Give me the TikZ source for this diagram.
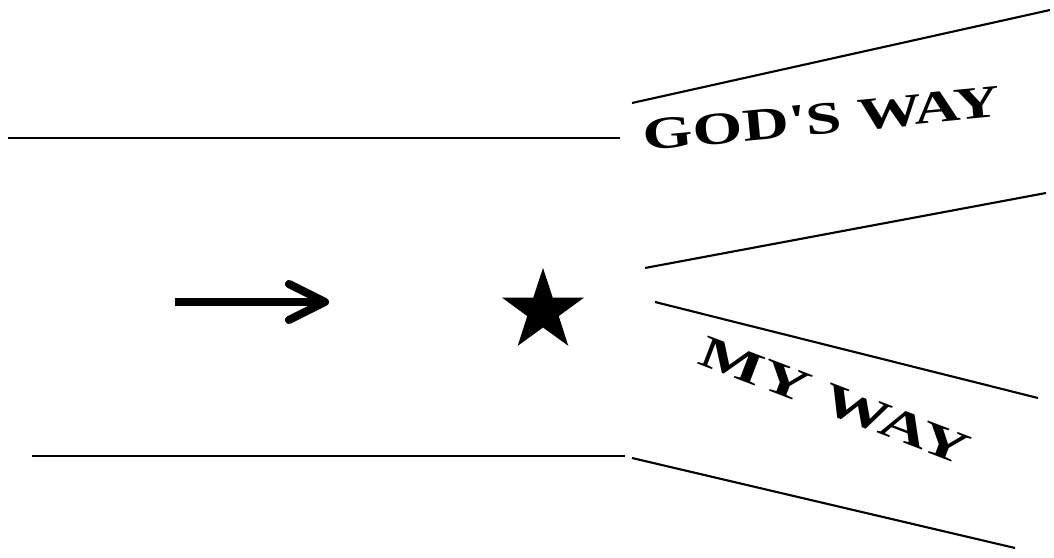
\documentclass[tikz,border=0pt]{standalone}
\usepackage{fontspec}
\usetikzlibrary{shapes.geometric, arrows.meta, positioning}
\newfontfamily\godfont[FakeStretch=1.4]{Liberation Serif}
\newfontfamily\myfont[FakeStretch=1.5]{Liberation Serif}

\begin{document}
\begin{tikzpicture}[
        x=0.01cm, y=-0.01cm,
        road/.style={line width=0.6pt, black},
        way/.style={font=\bfseries\fontsize{13}{15}\selectfont, inner sep=0pt},
        goal/.style={star, star points=5, star point ratio=2.6, fill=black, minimum size=0.86cm, inner sep=0pt}
    ]
        \useasboundingbox (0,0) rectangle (1054,558);

        % the straight road
        \draw[road] (8,138) -- (620,138);
        \draw[road] (32,456) -- (625,456);

        % the two branches
        \draw[road] (632,103) -- (1050,10);
        \draw[road] (645,268) -- (1046,193);
        \draw[road] (655,302) -- (1038,398);
        \draw[road] (632,458) -- (1015,548);

        \node[way, rotate=5.5] (godsway) at (822,119) {\godfont GOD'S WAY};
        \node[way, rotate=-21] (myway) at (835,401) {\myfont MY WAY};

        % direction and goal
        \coordinate (from) at (175,302);
        \coordinate (to)   at (329,302);
        \draw[line width=2.3pt, -{Straight Barb[length=0.36cm, width=0.36cm, round]}] (from) -- (to);
        \node[goal] (star) at (543,311) {};
    \end{tikzpicture}
\end{document}
